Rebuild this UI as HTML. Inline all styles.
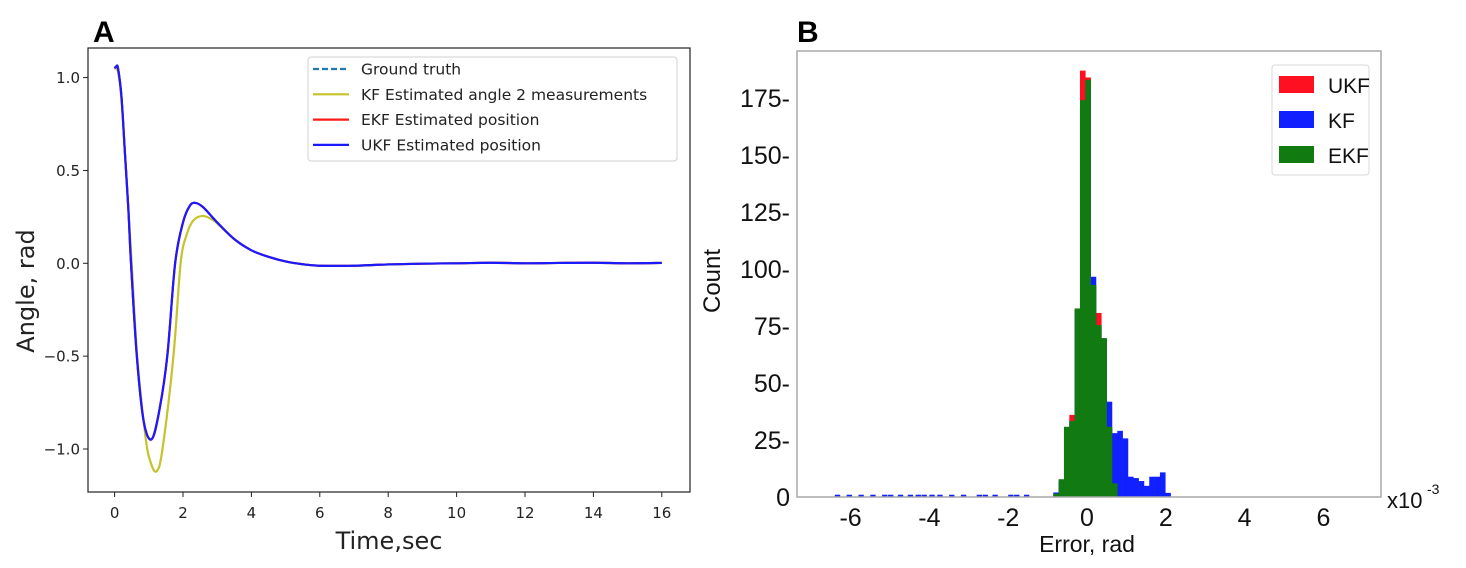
<!DOCTYPE html>
<html><head><meta charset="utf-8"><style>
html,body{margin:0;padding:0;background:#fff;}
svg{display:block;}
.mpl{font-family:"DejaVu Sans","Liberation Sans",sans-serif;fill:#222;}
.cal{font-family:"Liberation Sans Narrow","Liberation Sans",sans-serif;fill:#111;}
</style></head><body>
<svg id="fig" width="1466" height="568" viewBox="0 0 1466 568" xmlns="http://www.w3.org/2000/svg">
<text x="93" y="42" font-family="Liberation Sans,sans-serif" font-weight="bold" font-size="30">A</text>
<text x="797" y="42" font-family="Liberation Sans,sans-serif" font-weight="bold" font-size="30">B</text>
<g id="pa"></g>
<g id="pb"></g>
</svg>
<script>
// ---- Panel A data ----
const ukfT = [0,0.05,0.1,0.2,0.3,0.4,0.48,0.65,0.85,1.08,1.3,1.54,1.77,2.0,2.2,2.37,2.6,3.0,3.5,4,4.5,5,5.5,6,7,8,9,10,11,12,13,14,15,16];
const ukfV = [1.05,1.06,1.05,0.9,0.6,0.3,0,-0.5,-0.85,-0.948,-0.8,-0.5,0,0.22,0.31,0.325,0.3,0.22,0.13,0.07,0.035,0.01,-0.005,-0.013,-0.013,-0.006,-0.002,0,0.003,0,0.002,0.003,0,0.002];
const kfT = [0,0.1,0.2,0.3,0.5,0.66,0.9,1.05,1.23,1.4,1.72,1.93,2.1,2.3,2.58,2.9,3.2,3.5,4,4.5,5,5.5,6,7,8,9,10,11,12,13,14,15,16];
const kfV = [1.05,1.03,0.88,0.6,0,-0.5,-0.93,-1.07,-1.12,-1.0,-0.5,0,0.15,0.23,0.255,0.23,0.18,0.13,0.07,0.035,0.01,-0.005,-0.013,-0.013,-0.006,-0.002,0,0.003,0,0.002,0.003,0,0.002];
const xTicksA = [0,2,4,6,8,10,12,14,16];
const yTicksA = [1.0,0.5,0.0,-0.5,-1.0];
const legendA = ["Ground truth","KF Estimated angle 2 measurements","EKF Estimated position","UKF Estimated position"];

// ---- Panel B data ----
const binStart = -0.855, binWidth = 0.1353;
const ekfCounts = [1.5,7.8,30.8,33.4,82.7,174,183,93,75.4,69.7,30.8,6];
const ukfCounts = [1,7,30,36,82,187,184,92,80.7,69,30,5];
const kfCounts  = [2,7,30,33,82,170,180,96.6,75,69,41.8,28,29,25.7,8.9,8.3,7,4.9,8.9,8.9,10.8,1.8];
const kfOutliers = [-6.4,-6.1,-5.8,-5.5,-5.2,-5.05,-4.8,-4.55,-4.35,-4.2,-4.0,-3.8,-3.5,-3.2,-2.8,-2.65,-2.4,-2.0,-1.85,-1.6];
const xTicksB = [-6,-4,-2,0,2,4,6];
const yTicksB = [0,25,50,75,100,125,150,175];
const legendB = ["UKF","KF","EKF"];

const NS="http://www.w3.org/2000/svg";
function mk(tag, attrs, parent){const e=document.createElementNS(NS,tag);for(const k in attrs)e.setAttribute(k,attrs[k]);parent.appendChild(e);return e;}

const ax=t=>114.6+t*34.2, ay=v=>263.3-v*185.7;
const pa=document.getElementById('pa');
function smooth(T,V){
  const p=T.map((t,i)=>[ax(t),ay(V[i])]);
  let d=`M${p[0][0]},${p[0][1]}`;
  for(let i=0;i<p.length-1;i++){
    const p0=p[Math.max(0,i-1)],p1=p[i],p2=p[i+1],p3=p[Math.min(p.length-1,i+2)];
    const c1=[p1[0]+(p2[0]-p0[0])/6,p1[1]+(p2[1]-p0[1])/6];
    const c2=[p2[0]-(p3[0]-p1[0])/6,p2[1]-(p3[1]-p1[1])/6];
    d+=` C${c1[0]},${c1[1]} ${c2[0]},${c2[1]} ${p2[0]},${p2[1]}`;
  }
  return d;
}
let e;
e=mk('path',{d:smooth(ukfT,ukfV),fill:'none',stroke:'#1f77b4','stroke-width':2,'stroke-dasharray':'6 3'},pa);


e=mk('path',{d:smooth(kfT,kfV),fill:'none',stroke:'#c5c22a','stroke-width':2.2},pa);


e=mk('path',{d:smooth(ukfT,ukfV),fill:'none',stroke:'#ff1a1a','stroke-width':2.2},pa);


e=mk('path',{d:smooth(ukfT,ukfV),fill:'none',stroke:'#1a1aff','stroke-width':2.2},pa);


e=mk('rect',{x:88,y:48,width:602,height:444,fill:'none',stroke:'#222','stroke-width':1.2},pa);


xTicksA.forEach(t=>{
  const l=mk('line',{x1:ax(t),x2:ax(t),y1:492,y2:497,stroke:'#222'},pa);
  
  
  const tx=mk('text',{x:ax(t),y:518,'text-anchor':'middle','font-size':15,class:'mpl'},pa);
  tx.textContent=t;
  
  
});
yTicksA.forEach(v=>{
  const l=mk('line',{x1:83,x2:88,y1:ay(v),y2:ay(v),stroke:'#222'},pa);
  
  
  const tx=mk('text',{x:80,y:ay(v)+5.5,'text-anchor':'end','font-size':15,class:'mpl'},pa);
  tx.textContent=(v<0?'\u2212':'')+Math.abs(v).toFixed(1);
  
  
});
e=mk('text',{x:389,y:549,'text-anchor':'middle','font-size':24,class:'mpl',fill:'#000'},pa);
e.textContent='Time,sec';


e=mk('text',{x:0,y:0,'text-anchor':'middle','font-size':24,class:'mpl',transform:'translate(34,291) rotate(-90)'},pa);
e.textContent='Angle, rad';


e=mk('rect',{x:308,y:57,width:369,height:104,rx:3,fill:'#fff','fill-opacity':0.85,stroke:'#d0d0d0'},pa);


const legCols=['#1f77b4','#c5c22a','#ff1a1a','#1a1aff'];
legendA.forEach((s,i)=>{
  const y=69+i*25.3;
  const l=mk('line',{x1:313,x2:349,y1:y,y2:y,stroke:legCols[i],'stroke-width':2.2},pa);
  if(i===0)l.setAttribute('stroke-dasharray','6 3');
  
  
  const tx=mk('text',{x:361,y:y+5.5,'font-size':15.5,class:'mpl'},pa);
  tx.textContent=s;
  
  
});

const bx=v=>1087+v*39.4, by=c=>497-c*2.28;
const pb=document.getElementById('pb');
function bars(counts,col,name){
  counts.forEach((c,i)=>{
    const x0=bx(binStart+i*binWidth), x1=bx(binStart+(i+1)*binWidth);
    const r=mk('rect',{x:x0,y:by(c),width:x1-x0+0.3,height:497-by(c),fill:col},pb);
    
    
  });
}
bars(ukfCounts,'#ff1020','bar-ukf');
bars(kfCounts,'#1020ff','bar-kf');
kfOutliers.forEach(v=>{
  const r=mk('rect',{x:bx(v),y:by(1),width:binWidth*39.4,height:497-by(1),fill:'#1020ff'},pb);
  
  
});
bars(ekfCounts,'#117a11','bar-ekf');
e=mk('path',{d:'M797,497 L797,51 L1381,51 L1381,497 Z',fill:'none',stroke:'#a8a8a8','stroke-width':1.5},pb);


yTicksB.forEach(c=>{
  const tx=mk('text',{x:790,y:by(c)+9,'text-anchor':'end','font-size':25,class:'cal'},pb);
  tx.textContent=c+(c===0?'':'-');
  
  
});
xTicksB.forEach(v=>{
  const tx=mk('text',{x:bx(v),y:526,'text-anchor':'middle','font-size':25,class:'cal'},pb);
  tx.textContent=v;
  
  
});
e=mk('text',{x:1387,y:508,'font-size':22,class:'cal'},pb);
e.textContent='x10';


e=mk('text',{x:1427,y:494,'font-size':14,class:'cal'},pb);
e.textContent='-3';


e=mk('text',{x:1087,y:552,'text-anchor':'middle','font-size':23,class:'cal'},pb);
e.textContent='Error, rad';


e=mk('text',{x:0,y:0,'text-anchor':'middle','font-size':24,class:'cal',transform:'translate(720,281) rotate(-90)'},pb);
e.textContent='Count';


e=mk('rect',{x:1272,y:65,width:97,height:110,rx:3,fill:'#fff',stroke:'#d8d8d8'},pb);


const legColsB=['#ff1020','#1020ff','#117a11'];
legendB.forEach((s,i)=>{
  const y=85+i*35;
  const r=mk('rect',{x:1279,y:y-9,width:35,height:17,fill:legColsB[i]},pb);
  
  
  const tx=mk('text',{x:1328,y:y+8,'font-size':21,class:'cal'},pb);
  tx.textContent=s;
  
  
});
</script>
</body></html>
